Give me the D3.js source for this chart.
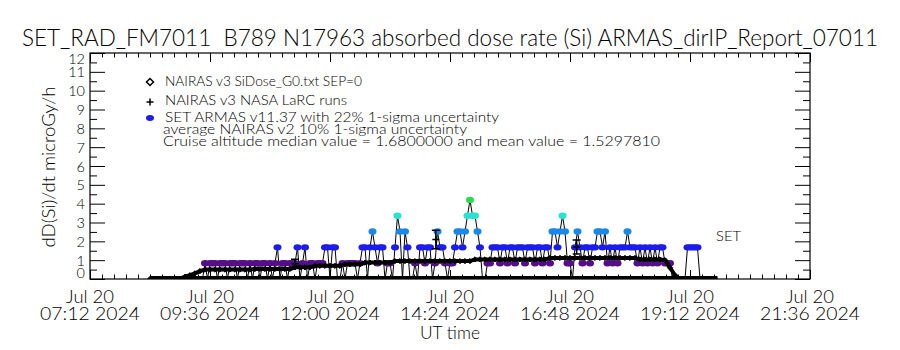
<!DOCTYPE html>
<html><head><meta charset="utf-8">
<script src="https://cdn.jsdelivr.net/npm/d3@7"></script>
<style>
body{margin:0;background:#fff}
svg{display:block}
text{font-family:"Lato","Liberation Sans","DejaVu Sans",Arial,sans-serif;font-weight:300;fill:#000;white-space:pre}
</style>
</head><body><svg id="c" width="900" height="350"></svg>
<script>
// ---------------- data ----------------
const titleText = "SET_RAD_FM7011  B789 N17963 absorbed dose rate (Si) ARMAS_dirIP_Report_07011";
const yTitle = "dD(Si)/dt microGy/h";
const xTitle = "UT time";
const yTicks = [0,1,2,3,4,5,6,7,8,9,10,11,12];
const xTickTimes = ["2024-07-20T07:12:00Z","2024-07-20T09:36:00Z","2024-07-20T12:00:00Z","2024-07-20T14:24:00Z","2024-07-20T16:48:00Z","2024-07-20T19:12:00Z","2024-07-20T21:36:00Z"];
const legendLabels = ["NAIRAS v3 SiDose_G0.txt SEP=0","NAIRAS v3 NASA LaRC runs","SET ARMAS v11.37 with 22% 1-sigma uncertainty"];
const noteLabels = ["average NAIRAS v2 10% 1-sigma uncertainty","Cruise altitude median value = 1.6800000 and mean value = 1.5297810"];
const seriesTag = "SET";

// ARMAS SET dose rate samples (3-minute cadence)
const armasStart = "2024-07-20T08:24:00Z";
const armasStepMinutes = 3;
const armasDose = [
0,0,0,0,0,0,0,0,0,0,0,0,0,0,0,0,0,0,0,0,0,0,
0.84,0,0.84,0.84,0.84,0,0.84,0.84,0.84,0,0.84,0.84,0.84,0,0.84,0.84,0.84,0,
0.84,0,0.84,0.84,0,0.84,0.84,0,0.84,0,0.84,1.68,0,0.84,0.84,0,0.84,0.84,0.84,1.68,
0,0.84,1.68,0,0.84,0.84,0,0.84,0.84,0.84,1.68,1.68,0,1.68,1.68,0,0,0.84,0,0.84,
0.84,0.84,0.84,0,0.84,1.68,1.68,0,1.68,2.52,1.68,0.84,1.68,1.68,0,0.84,0.84,0,1.68,3.36,
2.52,0,2.52,1.68,0,0,0.84,0,1.68,1.68,0.84,1.68,1.68,0,0.84,2.52,1.68,1.68,0.84,0,
0.84,0.84,1.68,2.52,2.52,1.68,2.52,3.36,4.2,3.36,3.36,2.52,1.68,0,0,0.84,0.84,1.68,1.68,1.68,
0.84,1.68,1.68,0.84,1.68,1.68,0.84,1.68,1.68,1.68,0.84,1.68,1.68,1.68,0.84,1.68,1.68,0.84,1.68,1.68,
0.84,2.52,2.52,1.68,2.52,3.36,2.52,0.84,0.84,0,1.68,2.52,1.68,0.84,1.68,1.68,0.84,1.68,1.68,2.52,
2.52,1.68,2.52,0.84,1.68,0.84,1.68,0.84,1.68,1.68,1.68,2.52,1.68,1.68,1.68,0.84,1.68,0.84,1.68,0.84,
1.68,0.84,1.68,0.84,1.68,1.68,0.84,0.84,0.84,0,0,0,0,0,0,1.68,1.68,1.68,1.68,1.68,
0,0,0,0,0,0,0,0
];

// NAIRAS v3 model (6-minute cadence)
const nairasStart = "2024-07-20T08:24:00Z";
const nairasStepMinutes = 6;
const nairasDose = [
0,0,0,0,0,0,0.02,0.12,0.2,0.3,0.42,0.5,
0.5,0.5,0.5,0.5,0.5,0.5,0.5,0.5,0.5,0.53,0.53,0.53,0.53,0.53,0.53,0.53,0.53,
0.62,0.62,0.62,0.62,0.7,0.7,0.7,0.7,0.7,0.7,0.78,0.78,0.78,0.78,
0.87,0.87,0.87,0.87,0.87,0.87,
0.95,0.95,0.95,0.95,0.95,0.95,0.95,0.95,0.95,0.95,0.95,0.95,0.95,0.95,0.95,0.95,
1.04,1.04,1.04,1.04,1.04,1.04,1.04,1.04,1.04,1.04,1.04,1.04,1.04,1.04,1.04,
1.12,1.12,1.12,1.12,1.12,1.12,1.12,1.12,1.12,1.12,1.12,1.12,1.12,1.12,1.12,1.12,1.12,1.12,
1.04,1.04,1.04,1.04,1.04,1.0,0.6,0.2,0,0,0,0,0,0,0,0
];

// NAIRAS v3 NASA LaRC runs with error bars
const larcTimes = ["2024-07-20T11:18:00Z","2024-07-20T14:07:00Z","2024-07-20T16:56:00Z"];
const larcDose = [0.81, 2.1, 1.7];
const larcErr = [0.24, 0.49, 0.37];

const doseLevels = [0, 0.84, 1.68, 2.52, 3.36, 4.2];
const doseColors = ["#000000","#560e88","#1c1cee","#1a88e8","#26e4d0","#26dc50"];

// ---------------- chart ----------------
const svg = d3.select("#c");
const X0 = 90, X1 = 810, Y0 = 279, Y1 = 53;
const parse = d3.isoParse;
const xTimes = xTickTimes.map(parse);
const x = d3.scaleUtc().domain([xTimes[0], xTimes[xTimes.length-1]]).range([X0, X1]);
const y = d3.scaleLinear().domain([yTicks[0], yTicks[yTicks.length-1]]).range([Y0, Y1]);
const color = d3.scaleOrdinal().domain(doseLevels).range(doseColors);

const t0a = parse(armasStart);
const armas = armasDose.map((v,i)=>({t:d3.utcMinute.offset(t0a, i*armasStepMinutes), v}));
const t0n = parse(nairasStart);
const nairas = nairasDose.map((v,i)=>({t:d3.utcMinute.offset(t0n, i*nairasStepMinutes), v}));
const larc = larcTimes.map((s,i)=>({t:parse(s), v:larcDose[i], e:larcErr[i]}));

svg.append("defs").append("clipPath").attr("id","plotclip")
  .append("rect").attr("x",X0).attr("y",Y1).attr("width",X1-X0).attr("height",Y0-Y1);

const g = svg.append("g").attr("clip-path","url(#plotclip)");

// zero-dose readings along the ARMAS log
const ext = d3.extent(armas, d=>d.t);
g.append("path")
  .attr("d", d3.line().x(d=>x(d)).y(()=>y(0))(ext))
  .attr("stroke","#000").attr("stroke-width",6).attr("fill","none");

// ARMAS connecting line
g.append("path").datum(armas)
  .attr("d", d3.line().x(d=>x(d.t)).y(d=>y(d.v)))
  .attr("stroke","#000").attr("stroke-width",1).attr("fill","none");

// ARMAS dots
g.selectAll("ellipse.armas").data(armas.filter(d=>d.v>0)).join("ellipse")
  .attr("class","armas")
  .attr("cx",d=>x(d.t)).attr("cy",d=>y(d.v))
  .attr("rx",4).attr("ry",3.2)
  .attr("fill",d=>color(d.v));

// NAIRAS line + diamonds
g.append("path").datum(nairas)
  .attr("d", d3.line().x(d=>x(d.t)).y(d=>y(d.v)))
  .attr("stroke","#000").attr("stroke-width",4).attr("fill","none");
const diamond = (cx,cy,r)=>`M${cx},${cy-r}L${cx+r},${cy}L${cx},${cy+r}L${cx-r},${cy}Z`;
g.selectAll("path.dia").data(nairas).join("path").attr("class","dia")
  .attr("d",d=>diamond(x(d.t),y(d.v),2.6))
  .attr("fill","#000").attr("stroke","#000").attr("stroke-width",1);

// LaRC runs with error bars
const lg = g.selectAll("g.larc").data(larc).join("g").attr("class","larc");
lg.append("path").attr("d",d=>{
  const cx=x(d.t), ya=y(d.v+d.e), yb=y(d.v-d.e);
  return `M${cx},${ya}V${yb}M${cx-4},${ya}H${cx+4}M${cx-4},${yb}H${cx+4}`;
}).attr("stroke","#000").attr("stroke-width",1.5).attr("fill","none");
lg.append("path").attr("d",d=>{
  const cx=x(d.t), cy=y(d.v);
  return `M${cx-3.5},${cy}H${cx+3.5}M${cx},${cy-3.5}V${cy+3.5}`;
}).attr("stroke","#000").attr("stroke-width",1.5);

// ---------------- axes ----------------
const minorX = [];
for (let i=0;i<xTimes.length-1;i++){
  const a=+xTimes[i], b=+xTimes[i+1];
  for (let k=1;k<10;k++) minorX.push(new Date(a+(b-a)*k/10));
}
const minorY = [];
for (let i=0;i<yTicks.length-1;i++) minorY.push((yTicks[i]+yTicks[i+1])/2);

function tickGroup(axis, tx, ty){
  const gg = svg.append("g").attr("transform",`translate(${tx},${ty})`).call(axis);
  gg.select(".domain").remove();
  gg.selectAll("line").attr("stroke","#000").attr("stroke-width",1);
  gg.selectAll("text").remove();
}
tickGroup(d3.axisBottom(x).tickValues(xTimes).tickSize(-9).tickFormat(""),0,Y0);
tickGroup(d3.axisBottom(x).tickValues(minorX).tickSize(-4.5).tickFormat(""),0,Y0);
tickGroup(d3.axisTop(x).tickValues(xTimes).tickSize(-9).tickFormat(""),0,Y1);
tickGroup(d3.axisTop(x).tickValues(minorX).tickSize(-4.5).tickFormat(""),0,Y1);
tickGroup(d3.axisLeft(y).tickValues(yTicks).tickSize(-15).tickFormat(""),X0,0);
tickGroup(d3.axisLeft(y).tickValues(minorY).tickSize(-7).tickFormat(""),X0,0);
tickGroup(d3.axisRight(y).tickValues(yTicks).tickSize(-15).tickFormat(""),X1,0);
tickGroup(d3.axisRight(y).tickValues(minorY).tickSize(-7).tickFormat(""),X1,0);

svg.append("rect").attr("x",X0).attr("y",Y1).attr("width",X1-X0).attr("height",Y0-Y1)
  .attr("fill","none").attr("stroke","#000").attr("stroke-width",1.2);

// y tick labels
svg.selectAll("text.ylab").data(yTicks).join("text").attr("class","ylab")
  .attr("x",X0-5).attr("y",d=>Math.max(Y1+5, Math.min(Y0-7, y(d))))
  .attr("text-anchor","end").attr("dominant-baseline","central")
  .attr("font-size",14.5).text(d=>d);

// x tick labels
const fmt1 = d3.utcFormat("%b %d"), fmt2 = d3.utcFormat("%H:%M %Y");
svg.selectAll("text.xl1").data(xTimes).join("text").attr("class","xl1")
  .attr("x",d=>x(d)).attr("y",303).attr("text-anchor","middle").attr("font-size",17)
  .attr("textLength",48).attr("lengthAdjust","spacingAndGlyphs").text(d=>fmt1(d));
svg.selectAll("text.xl2").data(xTimes).join("text").attr("class","xl2")
  .attr("x",d=>x(d)).attr("y",320).attr("text-anchor","middle").attr("font-size",17)
  .attr("textLength",100).attr("lengthAdjust","spacingAndGlyphs").text(d=>fmt2(d));

// titles
svg.append("text").attr("x",450).attr("y",46).attr("text-anchor","middle").attr("font-size",23)
  .attr("textLength",856).attr("lengthAdjust","spacingAndGlyphs").text(titleText);
svg.append("text").attr("transform","translate(55,167) rotate(-90)").attr("text-anchor","middle")
  .attr("font-size",18).attr("textLength",161).attr("lengthAdjust","spacingAndGlyphs").text(yTitle);
svg.append("text").attr("x",450).attr("y",339).attr("text-anchor","middle").attr("font-size",18)
  .attr("textLength",60).attr("lengthAdjust","spacingAndGlyphs").text(xTitle);

// legend
const legY = [86,105,122];
const legW = [197,182,334];
svg.selectAll("text.leg").data(legendLabels).join("text").attr("class","leg")
  .attr("x",165).attr("y",(d,i)=>legY[i]).attr("font-size",13)
  .attr("textLength",(d,i)=>legW[i]).attr("lengthAdjust","spacingAndGlyphs").text(d=>d);
svg.append("path").attr("d",diamond(150,82,3.5)).attr("fill","none").attr("stroke","#000").attr("stroke-width",1.5);
svg.append("path").attr("d","M146.5,102H153.5M150,98.5V105.5").attr("stroke","#000").attr("stroke-width",1.5);
svg.append("ellipse").attr("cx",150).attr("cy",118).attr("rx",4).attr("ry",3).attr("fill",color(1.68));
const noteY = [134,146], noteW=[304,497];
svg.selectAll("text.note").data(noteLabels).join("text").attr("class","note")
  .attr("x",163).attr("y",(d,i)=>noteY[i]).attr("font-size",13)
  .attr("textLength",(d,i)=>noteW[i]).attr("lengthAdjust","spacingAndGlyphs").text(d=>d);

svg.append("text").attr("x",716).attr("y",241).attr("font-size",14)
  .attr("textLength",25).attr("lengthAdjust","spacingAndGlyphs").text(seriesTag);
</script>
</body></html>
